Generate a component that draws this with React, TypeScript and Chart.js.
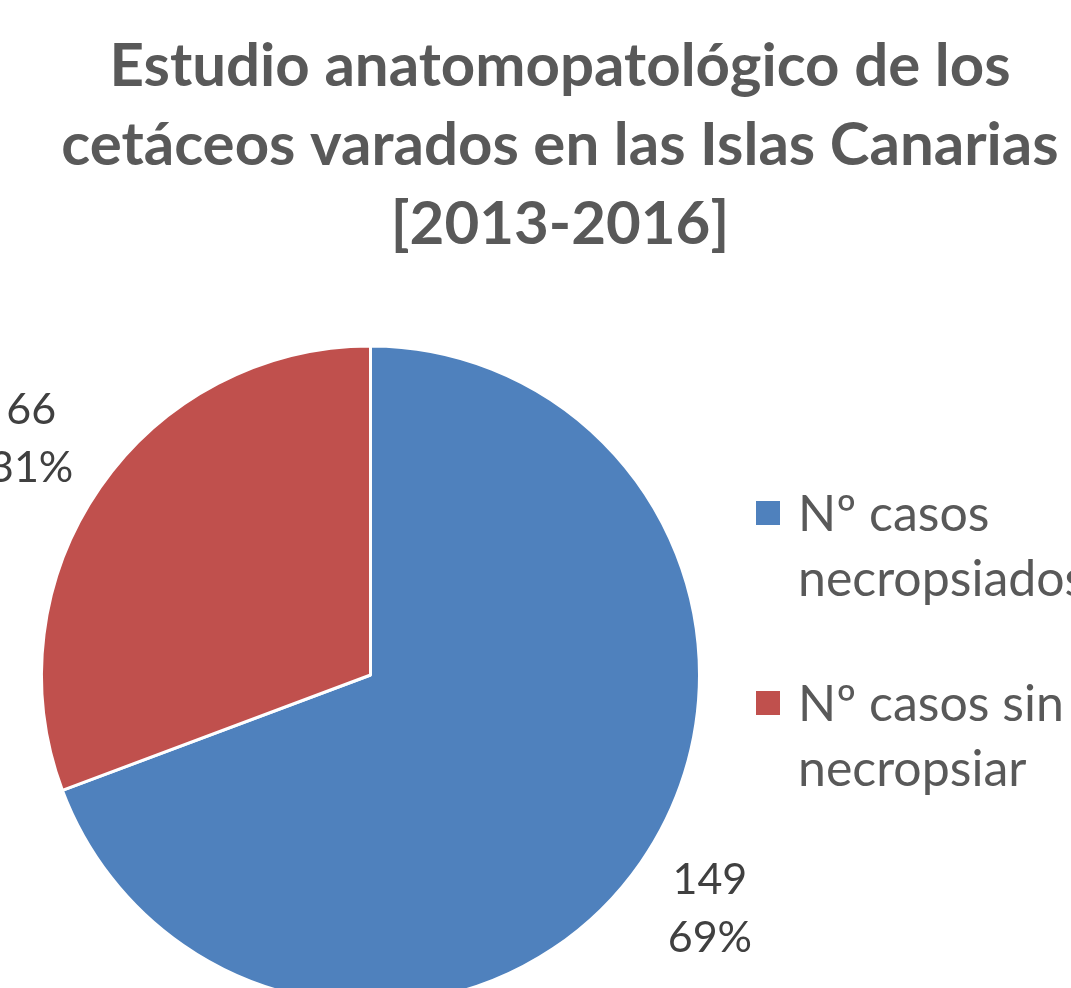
import React, { useEffect, useRef } from "react";
import { Chart, registerables } from "chart.js";

Chart.register(...registerables);

const categories = ["Nº casos necropsiados", "Nº casos sin necropsiar"];
const values = [149, 66];
const colors = ["#4F81BD", "#C0504D"];
const titleLines = [
  "Estudio anatomopatológico de los",
  "cetáceos varados en las Islas Canarias",
  "[2013-2016]",
];

const FONT = "Lato, 'Open Sans', sans-serif";

const overlayPlugin = {
  id: "overlay",
  afterDraw(chart: any) {
    const ctx = chart.ctx as CanvasRenderingContext2D;
    ctx.save();
    // Title
    ctx.fillStyle = "#595959";
    ctx.textAlign = "center";
    ctx.textBaseline = "alphabetic";
    ctx.font = `bold 60px ${FONT}`;
    const titleBase = [86, 165, 244];
    titleLines.forEach((t, i) => ctx.fillText(t, 560, titleBase[i]));

    // Data labels
    const meta = chart.getDatasetMeta(0);
    const total = values.reduce((a, b) => a + b, 0);
    ctx.fillStyle = "#404040";
    ctx.font = `43px ${FONT}`;
    meta.data.forEach((arc: any, i: number) => {
      const p = arc.getProps(["x", "y", "startAngle", "endAngle", "outerRadius"], true);
      const mid = (p.startAngle + p.endAngle) / 2;
      const r = p.outerRadius + 84;
      const cx = p.x + Math.cos(mid) * r;
      const cy = p.y + Math.sin(mid) * r;
      const pct = Math.round((values[i] / total) * 100) + "%";
      ctx.fillText(String(values[i]), cx, cy - 16);
      ctx.fillText(pct, cx, cy + 42);
    });

    // Legend
    ctx.textAlign = "left";
    ctx.textBaseline = "middle";
    ctx.font = `50px ${FONT}`;
    const maxW = 280;
    let y = 513;
    categories.forEach((label, i) => {
      const words = label.split(" ");
      const lines: string[] = [];
      let cur = "";
      words.forEach((w) => {
        const test = cur ? cur + " " + w : w;
        if (cur && ctx.measureText(test).width > maxW) {
          lines.push(cur);
          cur = w;
        } else cur = test;
      });
      if (cur) lines.push(cur);
      ctx.fillStyle = colors[i];
      ctx.fillRect(756, y - 12, 24, 24);
      ctx.fillStyle = "#595959";
      lines.forEach((l, j) => ctx.fillText(l, 798, y + 2 + j * 65));
      y += 190;
    });
    ctx.restore();
  },
};

export default function App() {
  const ref = useRef<HTMLCanvasElement>(null);
  useEffect(() => {
    if (!ref.current) return;
    const chart = new Chart(ref.current, {
      type: "pie",
      data: {
        labels: categories,
        datasets: [
          {
            data: values,
            backgroundColor: colors,
            borderColor: "#FFFFFF",
            borderWidth: 3,
            hoverOffset: 0,
          },
        ],
      },
      options: {
        responsive: false,
        animation: false,
        devicePixelRatio: 1,
        layout: { padding: { left: 40, top: 344, right: 370, bottom: 94 } },
        plugins: {
          legend: { display: false },
          title: { display: false },
          tooltip: { enabled: false },
        },
      },
      plugins: [overlayPlugin],
    });
    return () => chart.destroy();
  }, []);
  return (
    <div
      style={{
        position: "fixed",
        left: 0,
        top: 0,
        width: 1071,
        height: 988,
        overflow: "hidden",
        background: "#fff",
      }}
    >
      <canvas ref={ref} width={1071} height={1100} style={{ width: 1071, height: 1100 }} />
    </div>
  );
}
